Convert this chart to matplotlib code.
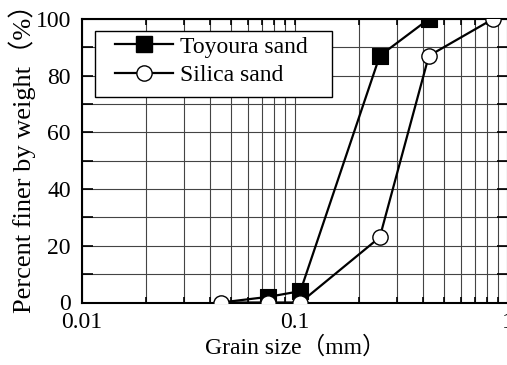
import numpy as np
import matplotlib
matplotlib.use("Agg")
import matplotlib.pyplot as plt
import matplotlib.patches as mpatches
from matplotlib.lines import Line2D
from matplotlib.ticker import LogLocator, MultipleLocator, FixedFormatter, FixedLocator

plt.rcParams['font.family'] = ['Liberation Serif', 'Noto Sans CJK JP']

# grain size distribution data
toyoura_size = [0.045, 0.075, 0.106, 0.25, 0.425]
toyoura_finer = [0, 2, 4, 87, 100]
silica_size = [0.045, 0.075, 0.106, 0.25, 0.425, 0.85]
silica_finer = [0, 0, 0, 23, 87, 100]

x_ticks = [0.01, 0.1, 1]
x_labels = ['0.01', '0.1', '1']

FS = 17
MS = 11

fig = plt.figure(figsize=(5.07, 3.65), dpi=100)
ax = fig.add_axes([82 / 507, 62.5 / 365, 426 / 507, 283.5 / 365])

# lines
ax.plot(toyoura_size, toyoura_finer, color='black', lw=1.6, zorder=3)
ax.plot(silica_size, silica_finer, color='black', lw=1.6, zorder=3)
# markers (clipped at the axes edge like the original)
ax.scatter(toyoura_size[1:], toyoura_finer[1:], marker='s', s=MS ** 2,
           c='black', edgecolors='black', linewidths=0.8, zorder=4)
ax.scatter(silica_size, silica_finer, marker='o', s=MS ** 2, c='white',
           edgecolors='black', linewidths=1.0, zorder=5)

ax.set_xscale('log')
ax.set_xlim(0.01, 1)
ax.set_ylim(0, 100)

ax.xaxis.set_major_locator(FixedLocator(x_ticks))
ax.xaxis.set_major_formatter(FixedFormatter(x_labels))
ax.xaxis.set_minor_locator(LogLocator(base=10, subs=np.arange(2, 10)))
ax.xaxis.set_minor_formatter(plt.NullFormatter())
ax.yaxis.set_major_locator(MultipleLocator(20))
ax.yaxis.set_minor_locator(MultipleLocator(10))

ax.grid(which='both', color='#444444', lw=0.8)
ax.set_axisbelow(True)

ax.tick_params(axis='both', which='both', direction='in', top=True, right=True,
               labelsize=FS, colors='black')
ax.tick_params(axis='y', which='both', length=8, width=1.2, pad=8)
ax.tick_params(axis='x', which='both', length=4, width=1.2, pad=7)

for s in ax.spines.values():
    s.set_linewidth(1.5)

ax.set_xlabel('Grain size（mm）', fontsize=FS, labelpad=2)
ax.set_ylabel('Percent finer by weight（%）', fontsize=19)
ax.yaxis.set_label_coords(-0.108, 0.53)

# legend: box drawn by hand, entries without frame
box = mpatches.Rectangle((0.0305, 0.725), 0.5565, 0.233, transform=ax.transAxes,
                         facecolor='white', edgecolor='black', lw=1.0, zorder=6)
ax.add_patch(box)
handles = [
    Line2D([], [], color='black', lw=1.6, marker='s', ms=MS, mfc='black', mec='black'),
    Line2D([], [], color='black', lw=1.6, marker='o', ms=MS, mfc='white', mec='black'),
]
leg = ax.legend(handles, ['Toyoura sand', 'Silica sand'], loc='upper left',
                bbox_to_anchor=(0.077, 0.94), fontsize=FS, frameon=False,
                handlelength=2.45, borderpad=0, labelspacing=0.3,
                handletextpad=0.3, borderaxespad=0)
leg.set_zorder(7)

fig.savefig('out.png', dpi=100)
